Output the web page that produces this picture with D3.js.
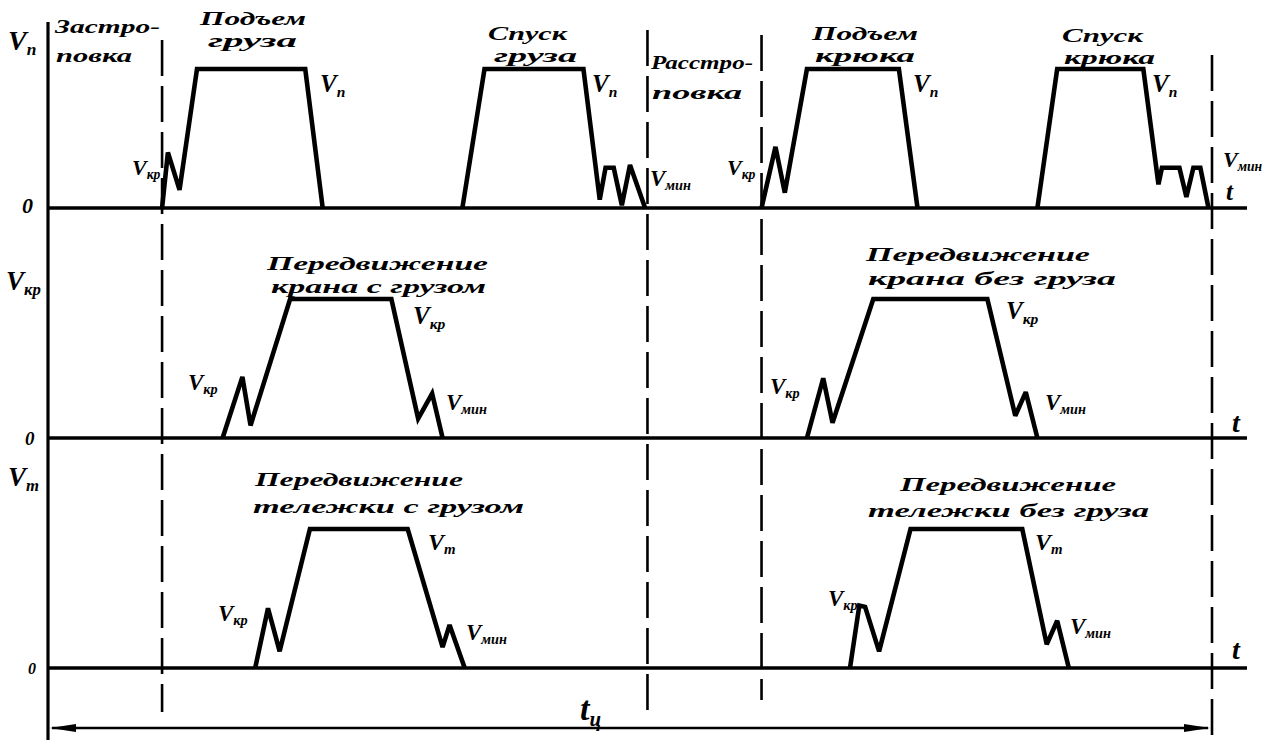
<!DOCTYPE html>
<html>
<head>
<meta charset="utf-8">
<script src="https://cdn.jsdelivr.net/npm/d3@7"></script>
<style>
  html, body { margin: 0; padding: 0; background: #fff; }
  svg text { font-family: "Liberation Serif", "DejaVu Serif", serif; font-style: italic; font-weight: bold; fill: #000; }
</style>
</head>
<body>
<svg id="chart" width="1268" height="740"></svg>
<script>
// Speed profiles over one crane work cycle.
// Time is given in % of the cycle time t_ц, speed as a fraction of the nominal speed.

// Hoist mechanism (V_п)
const hoistLoad    = [[9.8,0],[10.3,0.40],[11.3,0.13],[12.8,1],[22.1,1],[23.6,0]];
const lowerLoad    = [[35.6,0],[37.5,1],[46.0,1],[47.4,0.06],[47.9,0.29],[48.6,0.29],[49.3,0.02],[50.0,0.31],[51.3,0]];
const hoistHook    = [[61.3,0],[62.5,0.44],[63.3,0.11],[65.2,1],[73.1,1],[74.7,0]];
const lowerHook    = [[85.0,0],[86.7,1],[94.1,1],[95.4,0.17],[95.7,0.29],[97.2,0.29],[97.8,0.08],[98.4,0.29],[99.0,0.29],[99.7,0]];

// Crane travel (V_кр)
const craneLoaded  = [[15.0,0],[16.7,0.44],[17.4,0.09],[20.8,1],[29.5,1],[31.8,0.14],[33.0,0.32],[33.9,0]];
const craneEmpty   = [[65.2,0],[66.6,0.43],[67.4,0.11],[70.9,1],[80.7,1],[83.1,0.16],[84.0,0.33],[85.0,0]];

// Trolley travel (V_т)
const trolleyLoaded = [[17.8,0],[18.9,0.43],[19.9,0.12],[22.5,1],[30.9,1],[33.9,0.15],[34.5,0.31],[35.8,0]];
const trolleyEmpty  = [[68.9,0],[69.7,0.45],[70.2,0.44],[71.4,0.12],[74.1,1],[83.7,1],[85.8,0.17],[86.7,0.34],[87.7,0]];

// Boundaries of the slinging / unslinging intervals and the cycle end (% of t_ц)
const boundaries = [9.8, 51.5, 61.3, 100];

const panels = [
  { axis: ["V", "п"],  profiles: [hoistLoad, lowerLoad, hoistHook, lowerHook] },
  { axis: ["V", "кр"], profiles: [craneLoaded, craneEmpty] },
  { axis: ["V", "т"],  profiles: [trolleyLoaded, trolleyEmpty] }
];

// ---- layout ----
const svg = d3.select("#chart");
const left = 48, right = 1212, axisEnd = 1247;
const baselines = [208, 438, 668];
const panelHeight = 139;

const x = d3.scaleLinear().domain([0, 100]).range([left, right]);
const y = d3.scaleLinear().domain([0, 1]).range([0, -panelHeight]);
const line = d3.line().x(d => x(d[0])).y(d => y(d[1]));

// left vertical axis
svg.append("line")
  .attr("x1", left).attr("x2", left).attr("y1", 22).attr("y2", 740)
  .attr("stroke", "#000").attr("stroke-width", 3.2);

// dashed interval boundaries
const dashSpans = [[40, 712], [30, 715], [35, 700], [55, 740]];
svg.selectAll("line.bound").data(boundaries).join("line")
  .attr("class", "bound")
  .attr("x1", d => x(d)).attr("x2", d => x(d))
  .attr("y1", (d, i) => dashSpans[i][0]).attr("y2", (d, i) => dashSpans[i][1])
  .attr("stroke", "#000").attr("stroke-width", 2.6)
  .attr("stroke-dasharray", "36,10");

// panels
panels.forEach((p, i) => {
  const g = svg.append("g").attr("transform", `translate(0,${baselines[i]})`);
  g.append("line")
    .attr("x1", left).attr("x2", axisEnd).attr("y1", 0).attr("y2", 0)
    .attr("stroke", "#000").attr("stroke-width", 3.4);
  g.selectAll("path.profile").data(p.profiles).join("path")
    .attr("class", "profile")
    .attr("d", line)
    .attr("fill", "none").attr("stroke", "#000")
    .attr("stroke-width", 4.6)
    .attr("stroke-linejoin", "miter").attr("stroke-miterlimit", 3);
});

// cycle time arrow
const arrowY = 728;
svg.append("line")
  .attr("x1", x(0) + 4).attr("x2", x(100) - 4).attr("y1", arrowY).attr("y2", arrowY)
  .attr("stroke", "#000").attr("stroke-width", 2.6);
[[x(0) + 2, 1], [x(100) - 2, -1]].forEach(([ax, dir]) => {
  svg.append("path")
    .attr("d", `M${ax},${arrowY} L${ax + dir * 26},${arrowY - 4} L${ax + dir * 26},${arrowY + 4} Z`)
    .attr("fill", "#000");
});

// ---- captions ----
const captions = [
  { s: "Застро-",          x: 55,  y: 33,  w: 105, f: 18 },
  { s: "повка",            x: 56,  y: 62,  w: 76,  f: 18 },
  { s: "Подъем",           x: 200, y: 25,  w: 106, f: 18 },
  { s: "груза",            x: 208, y: 47,  w: 89,  f: 18 },
  { s: "Спуск",            x: 488, y: 40,  w: 79,  f: 18 },
  { s: "груза",            x: 494, y: 62,  w: 83,  f: 18 },
  { s: "Расстро-",         x: 651, y: 69,  w: 102, f: 19 },
  { s: "повка",            x: 652, y: 99,  w: 90,  f: 19 },
  { s: "Подъем",           x: 812, y: 40,  w: 106, f: 18 },
  { s: "крюка",            x: 815, y: 62,  w: 100, f: 18 },
  { s: "Спуск",            x: 1062, y: 42, w: 81,  f: 18 },
  { s: "крюка",            x: 1064, y: 64, w: 91,  f: 18 },
  { s: "Передвижение",     x: 267, y: 270, w: 221, f: 19 },
  { s: "крана с грузом",   x: 271, y: 293, w: 215, f: 19 },
  { s: "Передвижение",     x: 866, y: 261, w: 224, f: 19 },
  { s: "крана без груза",  x: 868, y: 285, w: 248, f: 19 },
  { s: "Передвижение",     x: 255, y: 486, w: 208, f: 19 },
  { s: "тележки с грузом", x: 253, y: 513, w: 271, f: 19 },
  { s: "Передвижение",     x: 900, y: 491, w: 216, f: 19 },
  { s: "тележки без груза",x: 868, y: 517, w: 281, f: 19 }
];
svg.selectAll("text.caption").data(captions).join("text")
  .attr("class", "caption")
  .attr("x", d => d.x).attr("y", d => d.y)
  .attr("textLength", d => d.w).attr("lengthAdjust", "spacingAndGlyphs")
  .style("font-size", d => d.f + "px")
  .text(d => d.s);

// symbols with subscripts
const symbols = [
  // axis names
  { b: "V", s: "п",   x: 8,    y: 50,  f: 28 },
  { b: "V", s: "кр",  x: 6,    y: 290, f: 27 },
  { b: "V", s: "т",   x: 8,    y: 486, f: 27 },
  // hoisting
  { b: "V", s: "п",   x: 320,  y: 92,  f: 25 },
  { b: "V", s: "п",   x: 592,  y: 92,  f: 25 },
  { b: "V", s: "п",   x: 913,  y: 92,  f: 25 },
  { b: "V", s: "п",   x: 1152, y: 92,  f: 25 },
  { b: "V", s: "кр",  x: 132,  y: 175, f: 22 },
  { b: "V", s: "кр",  x: 727,  y: 175, f: 22 },
  { b: "V", s: "мин", x: 650,  y: 186, f: 23 },
  { b: "V", s: "мин", x: 1223, y: 167, f: 22 },
  // crane travel
  { b: "V", s: "кр",  x: 413,  y: 324, f: 25 },
  { b: "V", s: "кр",  x: 1006, y: 319, f: 25 },
  { b: "V", s: "кр",  x: 188,  y: 390, f: 23 },
  { b: "V", s: "кр",  x: 770,  y: 394, f: 23 },
  { b: "V", s: "мин", x: 446,  y: 410, f: 23 },
  { b: "V", s: "мин", x: 1045, y: 410, f: 23 },
  // trolley travel
  { b: "V", s: "т",   x: 428,  y: 550, f: 24 },
  { b: "V", s: "т",   x: 1035, y: 550, f: 24 },
  { b: "V", s: "кр",  x: 218,  y: 621, f: 23 },
  { b: "V", s: "кр",  x: 828,  y: 606, f: 23 },
  { b: "V", s: "мин", x: 466,  y: 640, f: 23 },
  { b: "V", s: "мин", x: 1070, y: 634, f: 23 },
  // cycle time
  { b: "t", s: "ц",   x: 580,  y: 720, f: 34 }
];
const sym = svg.selectAll("text.sym").data(symbols).join("text")
  .attr("class", "sym")
  .attr("x", d => d.x).attr("y", d => d.y)
  .style("font-size", d => d.f + "px");
sym.append("tspan").text(d => d.b);
sym.append("tspan")
  .attr("dy", d => d.f * 0.18)
  .style("font-size", d => (d.f * 0.62) + "px")
  .text(d => d.s);

// zero marks and time axis letters
const plain = [
  { s: "0", x: 22,   y: 213, f: 22 },
  { s: "0", x: 25,   y: 445, f: 19 },
  { s: "0", x: 28,   y: 674, f: 16 },
  { s: "t", x: 1226, y: 200, f: 25 },
  { s: "t", x: 1232, y: 432, f: 28 },
  { s: "t", x: 1232, y: 659, f: 28 }
];
svg.selectAll("text.plain").data(plain).join("text")
  .attr("class", "plain")
  .attr("x", d => d.x).attr("y", d => d.y)
  .style("font-size", d => d.f + "px")
  .text(d => d.s);
</script>
</body>
</html>
